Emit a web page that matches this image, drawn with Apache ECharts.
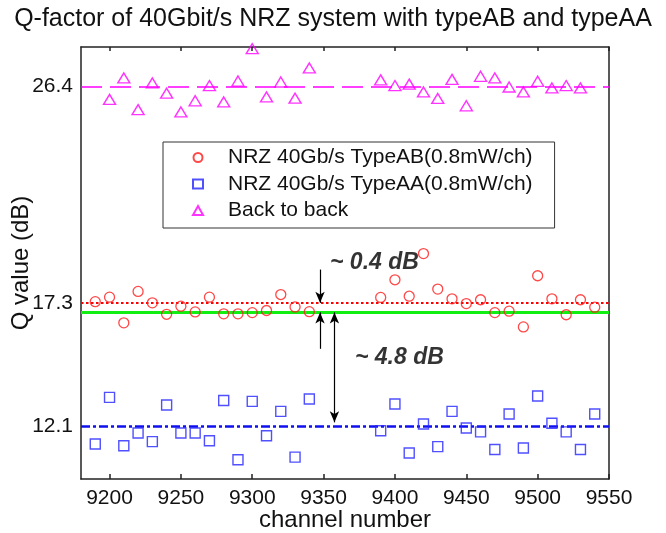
<!DOCTYPE html>
<html>
<head>
<meta charset="utf-8">
<script src="https://cdn.jsdelivr.net/npm/echarts@6/dist/echarts.min.js"></script>
<style>
  html, body { margin: 0; padding: 0; background: #fff; }
  #chart { width: 666px; height: 533px; }
</style>
</head>
<body>
<div id="chart"></div>
<script>
// Channel numbers and measured Q values (dB)
const typeABChannels = [9190, 9200, 9210, 9220, 9230, 9240, 9250, 9260, 9270, 9280, 9290, 9300, 9310, 9320, 9330, 9340,
                        9390, 9400, 9410, 9420, 9430, 9440, 9450, 9460, 9470, 9480, 9490, 9500, 9510, 9520, 9530, 9540];
const typeABQ = [17.35, 17.54, 16.46, 17.78, 17.30, 16.82, 17.16, 16.92, 17.54, 16.84, 16.84, 16.89, 16.98, 17.65, 17.13, 16.93,
                 17.53, 18.27, 17.58, 19.37, 17.88, 17.47, 17.27, 17.43, 16.89, 16.95, 16.29, 18.44, 17.47, 16.80, 17.43, 17.12];

const typeAAChannels = [9190, 9200, 9210, 9220, 9230, 9240, 9250, 9260, 9270, 9280, 9290, 9300, 9310, 9320, 9330, 9340,
                        9390, 9400, 9410, 9420, 9430, 9440, 9450, 9460, 9470, 9480, 9490, 9500, 9510, 9520, 9530, 9540];
const typeAAQ = [11.37, 13.33, 11.30, 11.83, 11.47, 13.01, 11.83, 11.83, 11.51, 13.20, 10.71, 13.16, 11.72, 12.74, 10.82, 13.26,
                 11.93, 13.05, 10.99, 12.21, 11.26, 12.74, 12.04, 11.88, 11.14, 12.63, 11.20, 13.39, 12.24, 11.88, 11.14, 12.63];

const b2bChannels = [9200, 9210, 9220, 9230, 9240, 9250, 9260, 9270, 9280, 9290, 9300, 9310, 9320, 9330, 9340,
                     9390, 9400, 9410, 9420, 9430, 9440, 9450, 9460, 9470, 9480, 9490, 9500, 9510, 9520, 9530];
const b2bQ = [25.85, 26.75, 25.42, 26.54, 26.11, 25.32, 25.79, 26.43, 25.74, 26.62, 27.98, 25.95, 26.58, 25.90, 27.17,
              26.67, 26.43, 26.49, 26.16, 25.89, 26.69, 25.58, 26.82, 26.75, 26.37, 26.16, 26.61, 26.33, 26.43, 26.33];

// Average levels (dB)
const b2bLevel = 26.4;
const typeABLevel = 17.3;
const typeABShiftedLevel = 16.9;   // typeAB level minus 0.4 dB
const typeAALevel = 12.1;

// Axis ticks and labels
const xTickValues = [9200, 9250, 9300, 9350, 9400, 9450, 9500, 9550];
const yTickValues = [12.1, 17.3, 26.4];

// Difference annotations: text, anchor channel, anchor Q
const annotationTexts = ['~ 0.4 dB', '~ 4.8 dB'];
const annotationChannels = [9354.5, 9372];
const annotationQ = [19.0, 15.0];

// Arrow positions (channel) and their start values
const gapArrowChannel = 9347.5;
const spanArrowChannel = 9357.6;
const upperArrowStart = 18.7;
const lowerArrowStart = 15.37;
const spanArrowEnd = 12.28;

const FONT = '"Liberation Sans", Arial, sans-serif';
const pairs = (xs, ys) => xs.map((x, i) => [x, ys[i]]);

const chart = echarts.init(document.getElementById('chart'), null, { renderer: 'canvas' });

const axisLineStyle = { color: '#222', width: 1.5 };

const option = {
  backgroundColor: '#ffffff',
  animation: false,
  textStyle: { fontFamily: FONT },
  title: {
    text: 'Q-factor of 40Gbit/s NRZ system with typeAB and typeAA',
    left: 'center',
    top: 2,
    textStyle: { fontFamily: FONT, fontSize: 25, fontWeight: 'normal', color: '#111' }
  },
  grid: { left: 81, right: 57, top: 47, bottom: 54, containLabel: false, outerBoundsMode: 'none' },
  legend: {
    orient: 'vertical',
    left: 163,
    top: 142,
    data: ['NRZ 40Gb/s TypeAB(0.8mW/ch)', 'NRZ 40Gb/s TypeAA(0.8mW/ch)', 'Back to back'],
    itemWidth: 10,
    itemHeight: 9,
    itemGap: 5.5,
    padding: [5, 22, 7, 29],
    borderColor: '#333',
    borderWidth: 1,
    backgroundColor: '#fff',
    selectedMode: false,
    textStyle: { fontFamily: FONT, fontSize: 21, color: '#111', lineHeight: 21, padding: [0, 0, 0, 20] }
  },
  xAxis: [{
    type: 'value',
    min: 9180,
    max: 9550,
    name: 'channel number',
    nameLocation: 'middle',
    nameGap: 29,
    nameMoveOverlap: false,
    nameTextStyle: { fontFamily: FONT, fontSize: 24, color: '#111' },
    axisLine: { show: true, onZero: false, lineStyle: axisLineStyle },
    axisTick: { show: true, inside: true, length: 5, customValues: xTickValues, lineStyle: axisLineStyle },
    axisLabel: { customValues: xTickValues, fontSize: 21, color: '#111', margin: 9, fontFamily: FONT,
                 formatter: v => String(v) },
    splitLine: { show: false }
  }, {
    type: 'value',
    position: 'top',
    min: 9180,
    max: 9550,
    axisLine: { show: true, onZero: false, lineStyle: axisLineStyle },
    axisTick: { show: true, inside: true, length: 4, customValues: xTickValues, lineStyle: axisLineStyle },
    axisLabel: { show: false },
    splitLine: { show: false }
  }],
  yAxis: [{
    type: 'value',
    min: 9.9,
    max: 28.05,
    name: 'Q value (dB)',
    nameLocation: 'middle',
    nameGap: 48,
    nameMoveOverlap: false,
    nameTextStyle: { fontFamily: FONT, fontSize: 24, color: '#111' },
    axisLine: { show: true, onZero: false, lineStyle: axisLineStyle },
    axisTick: { show: false },
    axisLabel: { customValues: yTickValues, fontSize: 21, color: '#111', margin: 8, fontFamily: FONT,
                 formatter: v => v.toFixed(1) },
    splitLine: { show: false }
  }, {
    type: 'value',
    position: 'right',
    min: 9.9,
    max: 28.05,
    axisLine: { show: true, onZero: false, lineStyle: axisLineStyle },
    axisTick: { show: false },
    axisLabel: { show: false },
    splitLine: { show: false }
  }],
  series: [
    {
      name: 'NRZ 40Gb/s TypeAB(0.8mW/ch)',
      type: 'scatter',
      symbol: 'circle',
      symbolSize: 10,
      itemStyle: { color: 'rgba(0,0,0,0)', borderColor: '#ff1a1a', borderWidth: 1.3 },
      data: pairs(typeABChannels, typeABQ),
      z: 5,
      markLine: {
        silent: true,
        symbol: 'none',
        label: { show: false },
        animation: false,
        data: [
          { yAxis: typeABLevel, lineStyle: { color: '#ff0000', width: 2.2, type: [2.5, 2.5] } },
          { yAxis: typeABShiftedLevel, lineStyle: { color: '#11ee11', width: 3, type: 'solid' } }
        ]
      }
    },
    {
      name: 'NRZ 40Gb/s TypeAA(0.8mW/ch)',
      type: 'scatter',
      symbol: 'rect',
      symbolSize: 10,
      itemStyle: { color: 'rgba(0,0,0,0)', borderColor: '#2424ff', borderWidth: 1.4 },
      data: pairs(typeAAChannels, typeAAQ),
      z: 5,
      markLine: {
        silent: true,
        symbol: 'none',
        label: { show: false },
        animation: false,
        data: [
          { yAxis: typeAALevel, lineStyle: { color: '#1010ee', width: 2.5, type: [9, 3, 3, 3] } }
        ]
      }
    },
    {
      name: 'Back to back',
      type: 'scatter',
      symbol: 'triangle',
      symbolSize: [12, 10],
      itemStyle: { color: 'rgba(0,0,0,0)', borderColor: '#ff00ff', borderWidth: 1.4 },
      data: pairs(b2bChannels, b2bQ),
      z: 5,
      markLine: {
        silent: true,
        symbol: 'none',
        label: { show: false },
        animation: false,
        data: [
          { yAxis: b2bLevel, lineStyle: { color: '#ff00ff', width: 1.6, type: [21, 8] } }
        ]
      }
    },
    {
      name: 'annotations',
      type: 'scatter',
      symbolSize: 0,
      silent: true,
      z: 6,
      data: annotationTexts.map((t, i) => ({ name: t, value: [annotationChannels[i], annotationQ[i]] })),
      label: {
        show: true,
        position: 'right',
        distance: 0,
        formatter: '{b}',
        fontFamily: FONT,
        fontSize: 23,
        fontStyle: 'italic',
        fontWeight: 'bold',
        color: '#000'
      },
      markLine: {
        silent: true,
        animation: false,
        label: { show: false },
        symbolSize: [7, 11],
        lineStyle: { color: '#000', width: 1.2, type: 'solid' },
        data: [
          [{ coord: [gapArrowChannel, upperArrowStart], symbol: 'none' },
           { coord: [gapArrowChannel, typeABLevel], symbol: 'arrow' }],
          [{ coord: [gapArrowChannel, lowerArrowStart], symbol: 'none' },
           { coord: [gapArrowChannel, typeABShiftedLevel], symbol: 'arrow' }],
          [{ coord: [spanArrowChannel, typeABShiftedLevel], symbol: 'arrow' },
           { coord: [spanArrowChannel, spanArrowEnd], symbol: 'arrow' }]
        ]
      }
    }
  ]
};

chart.setOption(option);
</script>
</body>
</html>
